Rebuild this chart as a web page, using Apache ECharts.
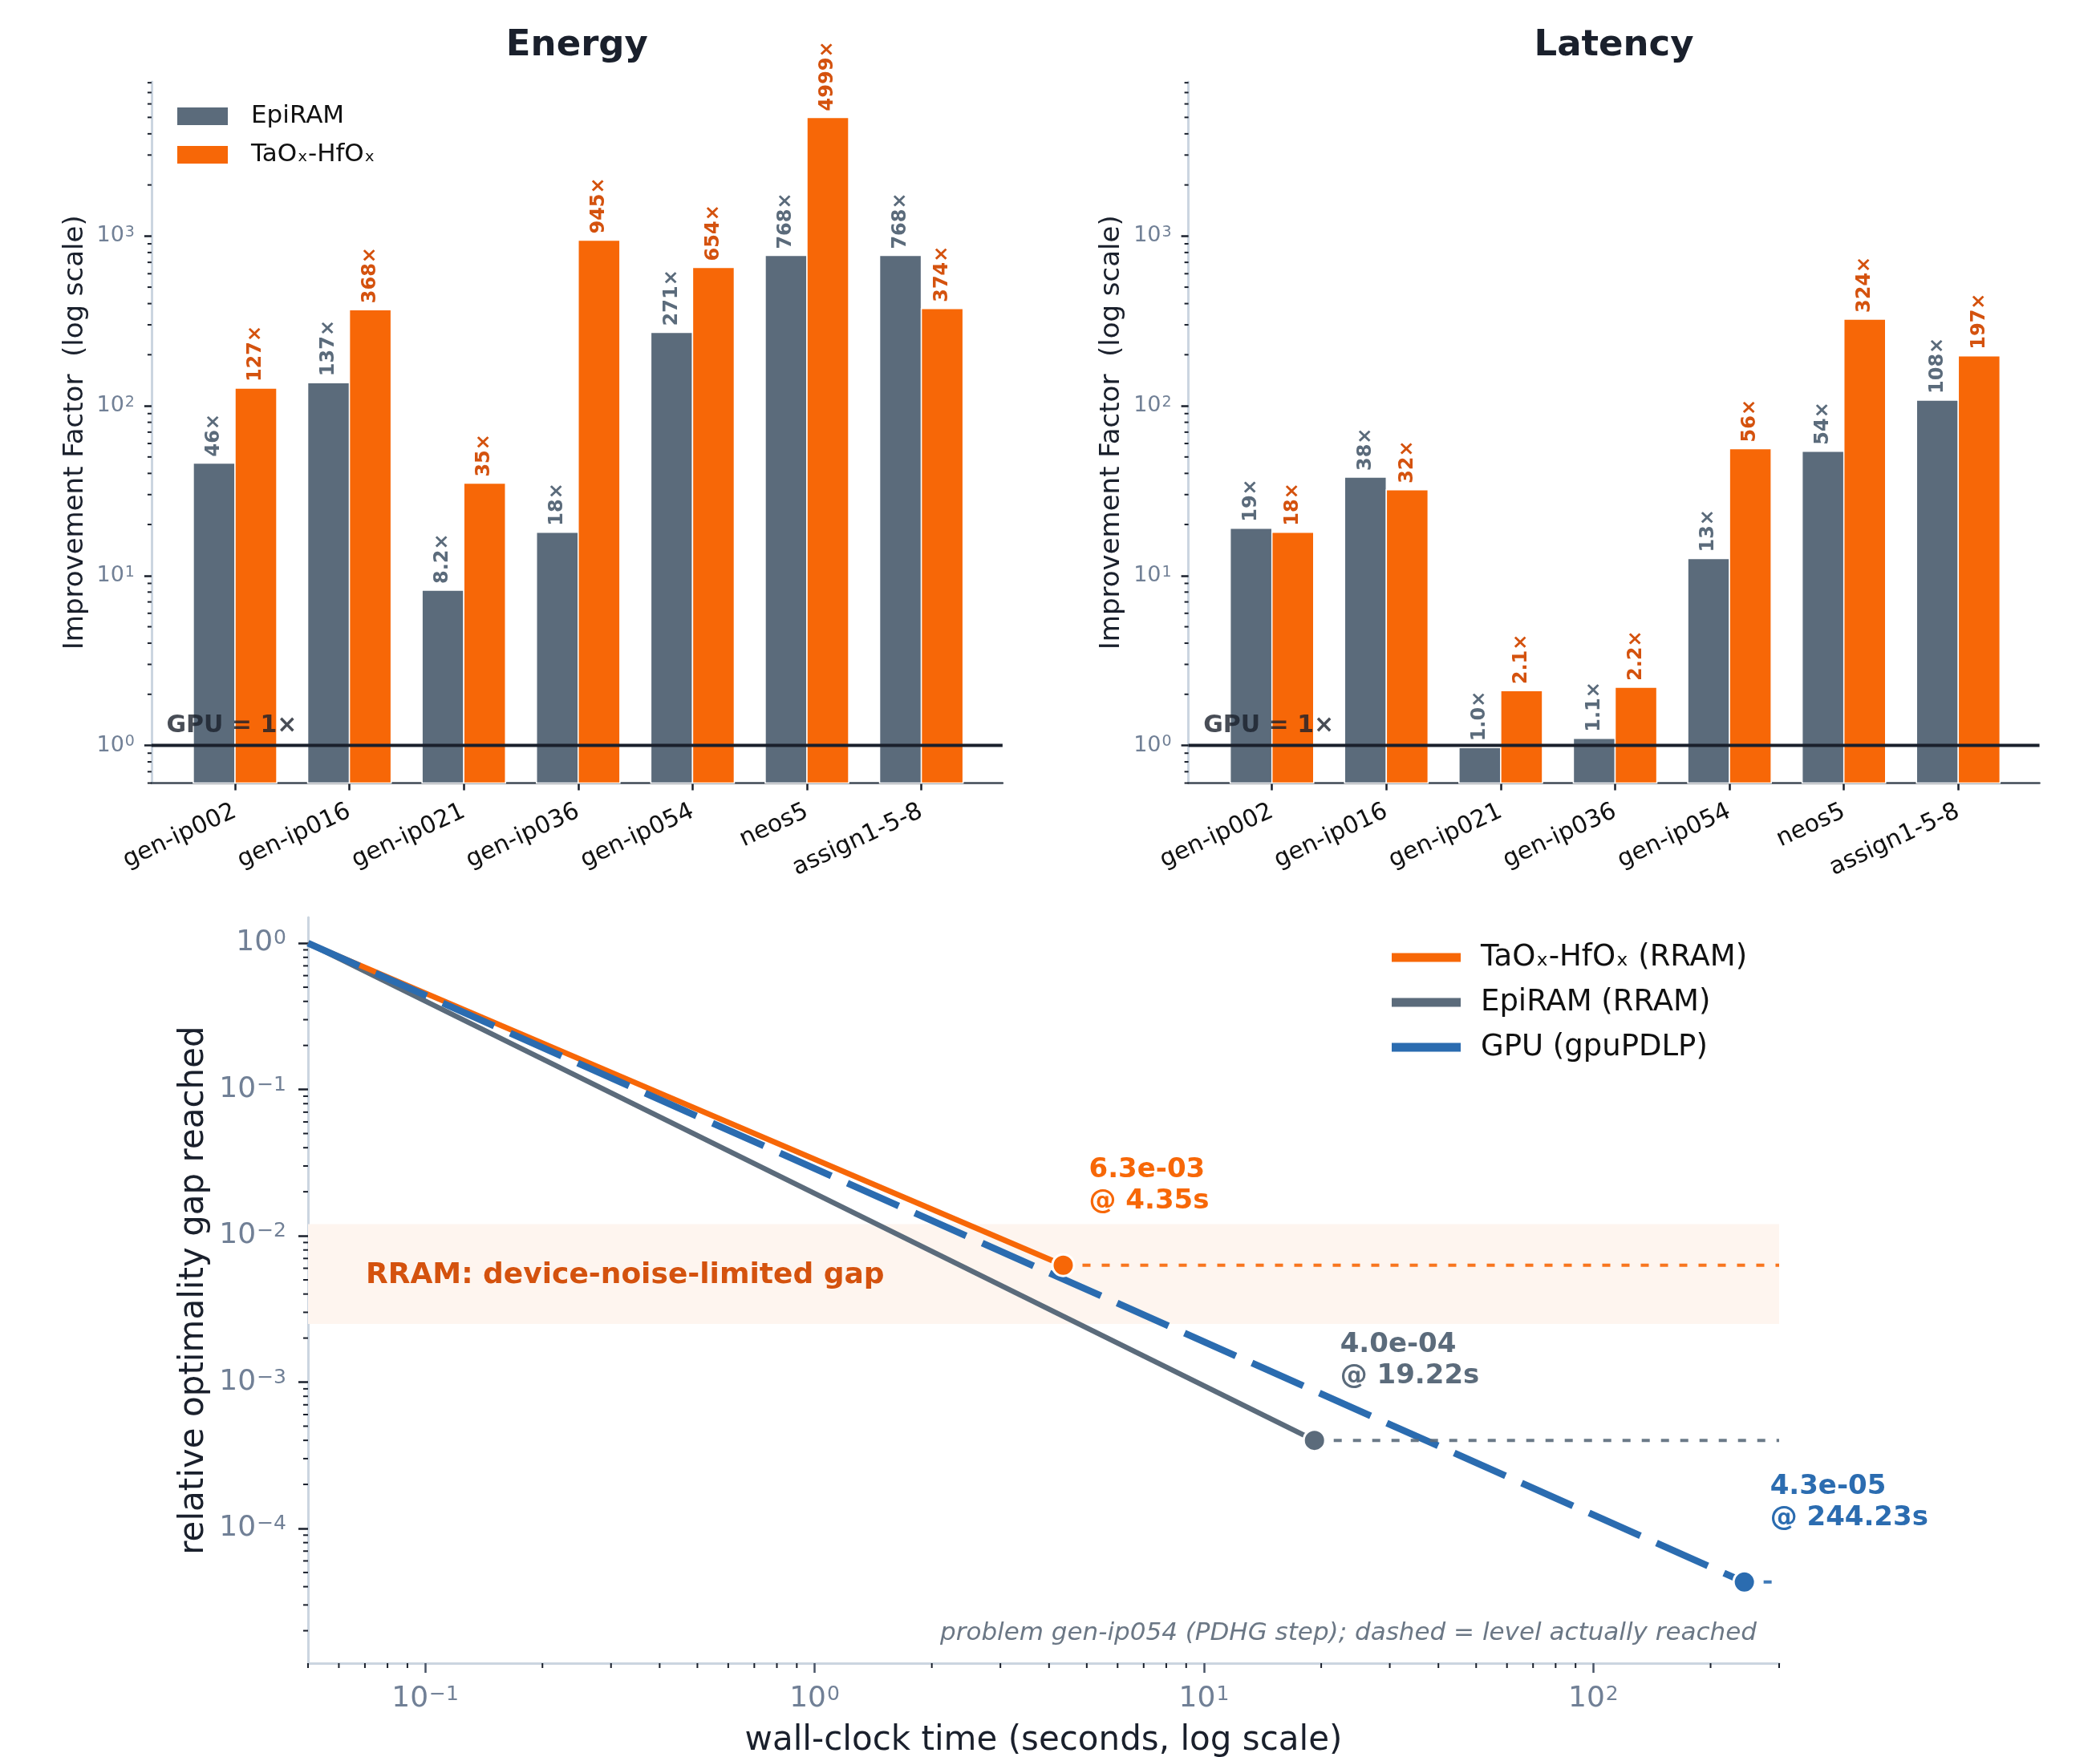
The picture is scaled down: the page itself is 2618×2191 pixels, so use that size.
<!DOCTYPE html>
<html>
<head>
<meta charset="utf-8">
<script src="https://cdn.jsdelivr.net/npm/echarts@6/dist/echarts.min.js"></script>
<style>
  html, body { margin: 0; padding: 0; background: #fff; }
  #chart { width: 2618px; height: 2191px; }
</style>
</head>
<body>
<div id="chart"></div>
<script>
// top panels: improvement factor vs GPU
const problems = ['gen-ip002', 'gen-ip016', 'gen-ip021', 'gen-ip036', 'gen-ip054', 'neos5', 'assign1-5-8']
const energyEpi = [46, 137, 8.2, 18, 271, 768, 768]
const energyTaO = [127, 368, 35, 945, 654, 4999, 374]
const latencyEpi = [19, 38, 0.97, 1.1, 12.6, 54, 108]
const latencyTaO = [18, 32, 2.1, 2.2, 56, 324, 197]

// bottom panel: convergence on gen-ip054
const curveNames = ['TaOₓ-HfOₓ (RRAM)', 'EpiRAM (RRAM)', 'GPU (gpuPDLP)']
const startTime = 0.05
const startGap = 1.0
const endTime = [4.35, 19.22, 244.23]
const endGap = [6.3e-3, 4.0e-4, 4.3e-5]
const noiseBand = [0.0025, 0.012]

const FONT = 'DejaVu Sans'
const GRAY = '#5b6b7b'
const ORANGE = '#f76707'
const ORANGE_DARK = '#d4520e'
const BLUE = '#2b6cb0'
const DARK = '#1a202c'
const SLATE = '#718096'
const SPINE = '#cbd5e0'
const curveColors = [ORANGE, GRAY, BLUE]
const curveWidths = [7, 6.5, 8.5]

const BAND = 142.6
const XMIN = -0.73
const XMAX = 6.71
const YMIN = 0.6
const YMAX = 8100
const TOP = 102
const HEIGHT = 874.5
const LXMIN = 0.05, LXMAX = 300, LYMIN = 1.2e-5, LYMAX = 1.5

const panels = [
  { title: 'Energy', tick0: 293, epi: energyEpi, tao: energyTaO },
  { title: 'Latency', tick0: 1585.7, epi: latencyEpi, tao: latencyTaO }
]

const powLabel = (v) => {
  const l = Math.log10(v)
  const e = Math.round(l)
  if (Math.abs(l - e) > 1e-6) return ''
  return '{b|10}{s|' + (e < 0 ? '−' + (-e) : e) + '}'
}

const minorTicks = (lo, hi) => {
  const out = []
  for (let e = Math.floor(Math.log10(lo)); e <= Math.ceil(Math.log10(hi)); e++) {
    for (let m = 2; m <= 9; m++) {
      const v = m * Math.pow(10, e)
      if (v >= lo * 0.999 && v <= hi * 1.001) out.push(v)
    }
  }
  return out
}

const fmtFactor = (v) => (v < 9.95 ? v.toFixed(1) : String(Math.round(v))) + '×'
const fmtGap = (g) => g.toExponential(1).replace(/e([+-])(\d)$/, 'e$10$2')

const grids = []
const xAxes = []
const yAxes = []
const series = []
const graphics = []

const richLabel = (size, supSize) => ({
  b: { fontSize: size, color: SLATE, fontFamily: FONT },
  s: { fontSize: supSize, color: SLATE, fontFamily: FONT, verticalAlign: 'top', padding: [0, 0, 0, 1] }
})

const barSeries = (name, values, side, color, labelColor, axisIdx) => ({
  type: 'custom',
  name,
  xAxisIndex: axisIdx,
  yAxisIndex: axisIdx,
  itemStyle: { color },
  clip: false,
  silent: true,
  data: values.map((v, i) => [i, v]),
  renderItem: (params, api) => {
    const i = api.value(0)
    const v = api.value(1)
    const top = api.coord([i, v])
    const base = api.coord([i, YMIN])
    const w = api.size([1, 1], [i, 1])[0] * 0.365
    const x0 = side < 0 ? top[0] - w : top[0]
    return {
      type: 'group',
      children: [
        {
          type: 'rect',
          shape: { x: x0, y: top[1], width: w, height: base[1] - top[1] },
          style: { fill: color, stroke: '#fff', lineWidth: 1.5 }
        },
        {
          type: 'text',
          x: x0 + w / 2,
          y: top[1] - 8,
          rotation: Math.PI / 2,
          style: {
            text: fmtFactor(v),
            fill: labelColor,
            font: 'bold 24px "DejaVu Sans"',
            align: 'left',
            verticalAlign: 'middle'
          }
        }
      ]
    }
  }
})

panels.forEach((p, k) => {
  const frame = 2 * k
  const bars = 2 * k + 1
  const frameLeft = p.tick0 + XMIN * BAND
  grids.push({ left: frameLeft, top: TOP, width: (XMAX - XMIN) * BAND, height: HEIGHT, containLabel: false, outerBoundsMode: 'none' })
  grids.push({ left: p.tick0 - BAND / 2, top: TOP, width: BAND * 7, height: HEIGHT, containLabel: false, outerBoundsMode: 'none' })

  xAxes.push({
    type: 'value', gridIndex: frame, min: XMIN, max: XMAX,
    axisLine: { show: true, onZero: false, lineStyle: { color: '#3f4a56', width: 2.5 } },
    axisTick: { show: false }, axisLabel: { show: false }, splitLine: { show: false }
  })
  xAxes.push({
    type: 'category', gridIndex: bars, data: problems,
    axisLine: { show: false, onZero: false },
    axisTick: { show: true, alignWithLabel: true, length: 9, lineStyle: { color: DARK, width: 2.5 } },
    axisLabel: { rotate: 25, fontSize: 30, fontFamily: FONT, color: '#111', margin: 34, interval: 0 },
    splitLine: { show: false }
  })

  yAxes.push({
    type: 'log', gridIndex: frame, min: YMIN, max: YMAX,
    name: 'Improvement Factor  (log scale)', nameLocation: 'middle', nameGap: 78, nameMoveOverlap: false,
    nameTextStyle: { fontSize: 34, fontFamily: FONT, color: DARK },
    axisLine: { show: true, onZero: false, lineStyle: { color: SPINE, width: 3 } },
    axisTick: { show: true, length: 9, lineStyle: { color: DARK, width: 2.5 } },
    axisLabel: { formatter: powLabel, rich: richLabel(27, 19), margin: 21, showMinLabel: false, showMaxLabel: false },
    splitLine: { show: false }
  })
  yAxes.push({
    type: 'log', gridIndex: bars, min: YMIN, max: YMAX, show: false,
    axisLine: { onZero: false }, splitLine: { show: false }
  })

  series.push(barSeries('EpiRAM', p.epi, -1, GRAY, GRAY, bars))
  series.push(barSeries('TaOₓ-HfOₓ', p.tao, 1, ORANGE, ORANGE_DARK, bars))

  // minor ticks on the log y axis
  series.push({
    type: 'custom', xAxisIndex: frame, yAxisIndex: frame, silent: true, clip: false,
    data: minorTicks(YMIN, YMAX).map(v => [XMIN, v]),
    renderItem: (params, api) => {
      const c = api.coord([api.value(0), api.value(1)])
      return { type: 'line', shape: { x1: c[0] - 5, y1: c[1], x2: c[0], y2: c[1] }, style: { stroke: DARK, lineWidth: 2 } }
    }
  })

  // GPU reference line
  series.push({
    type: 'line', xAxisIndex: frame, yAxisIndex: frame, silent: true, z: 5,
    data: [[XMIN, 1], [XMAX, 1]], symbol: 'none',
    lineStyle: { color: DARK, width: 4 }
  })
  series.push({
    type: 'scatter', xAxisIndex: frame, yAxisIndex: frame, silent: true, z: 5,
    data: [[-0.6, 1.3]], symbolSize: 0,
    label: {
      show: true, formatter: 'GPU = 1×', position: 'right', distance: 0,
      fontSize: 30, fontWeight: 'bold', fontFamily: FONT, color: DARK
    }
  })

  graphics.push({
    type: 'text', x: p.tick0 + (XMIN + XMAX) / 2 * BAND, y: 57,
    style: { text: p.title, font: 'bold 45px "DejaVu Sans"', fill: DARK, align: 'center', verticalAlign: 'middle' }
  })
})

// bottom panel
grids.push({ left: 384, top: 1144, width: 1834, height: 930, containLabel: false, outerBoundsMode: 'none' })
xAxes.push({
  type: 'log', gridIndex: 4, min: LXMIN, max: LXMAX,
  name: 'wall-clock time (seconds, log scale)', nameLocation: 'middle', nameGap: 76, nameMoveOverlap: false,
  nameTextStyle: { fontSize: 42, fontFamily: FONT, color: DARK },
  axisLine: { show: true, onZero: false, lineStyle: { color: SPINE, width: 3 } },
  axisTick: { show: true, length: 12, lineStyle: { color: '#4a5568', width: 2.5 } },
  axisLabel: { formatter: powLabel, rich: richLabel(36, 25), margin: 27, showMinLabel: false, showMaxLabel: false },
  splitLine: { show: false }
})
yAxes.push({
  type: 'log', gridIndex: 4, min: LYMIN, max: LYMAX,
  name: 'relative optimality gap reached', nameLocation: 'middle', nameGap: 121, nameMoveOverlap: false,
  nameTextStyle: { fontSize: 42, fontFamily: FONT, color: DARK },
  axisLine: { show: true, onZero: false, lineStyle: { color: SPINE, width: 3 } },
  axisTick: { show: true, length: 12, lineStyle: { color: DARK, width: 2.5 } },
  axisLabel: { formatter: powLabel, rich: richLabel(36, 25), margin: 27, showMinLabel: false, showMaxLabel: false },
  splitLine: { show: false }
})

series.push({
  type: 'line', xAxisIndex: 4, yAxisIndex: 4, data: [], silent: true, z: 1,
  markArea: {
    silent: true,
    itemStyle: { color: '#fef5ef' },
    label: {
      show: true, position: 'insideLeft', distance: 0, offset: [72, 2],
      formatter: 'RRAM: device-noise-limited gap',
      fontSize: 36, fontWeight: 'bold', fontFamily: FONT, color: ORANGE_DARK
    },
    data: [[{ yAxis: noiseBand[0] }, { yAxis: noiseBand[1] }]]
  }
})

const lineZ = [4, 3, 5]
curveNames.forEach((name, k) => {
  series.push({
    type: 'line', name, xAxisIndex: 4, yAxisIndex: 4, z: lineZ[k], silent: true,
    data: [[startTime, startGap], [endTime[k], endGap[k]]],
    symbol: 'none', itemStyle: { color: curveColors[k] },
    lineStyle: { color: curveColors[k], width: curveWidths[k], type: k === 2 ? [70, 22] : 'solid', cap: 'butt' }
  })
  series.push({
    type: 'line', xAxisIndex: 4, yAxisIndex: 4, z: 6, silent: true,
    data: [[endTime[k], endGap[k]], [LXMAX, endGap[k]]],
    symbol: 'none',
    lineStyle: { color: curveColors[k], width: 4, type: [10, 14], opacity: 0.9 }
  })
})

series.push({
  type: 'scatter', xAxisIndex: 4, yAxisIndex: 4, z: 8, silent: true,
  symbolSize: 27,
  itemStyle: { borderColor: '#fff', borderWidth: 3, opacity: 1 },
  data: endTime.map((t, k) => ({
    value: [t, endGap[k]],
    itemStyle: { color: curveColors[k] },
    label: { color: curveColors[k] }
  })),
  label: {
    show: true, position: 'right', distance: 17, offset: [0, -99],
    fontSize: 34, fontWeight: 'bold', fontFamily: FONT, lineHeight: 39, align: 'left',
    formatter: (params) => fmtGap(params.value[1]) + '\n@ ' + params.value[0].toFixed(2) + 's'
  }
})

// minor ticks for the bottom panel
series.push({
  type: 'custom', xAxisIndex: 4, yAxisIndex: 4, silent: true, clip: false,
  data: minorTicks(LYMIN, LYMAX).map(v => [LXMIN, v]),
  renderItem: (params, api) => {
    const c = api.coord([api.value(0), api.value(1)])
    return { type: 'line', shape: { x1: c[0] - 6, y1: c[1], x2: c[0], y2: c[1] }, style: { stroke: DARK, lineWidth: 2 } }
  }
})
series.push({
  type: 'custom', xAxisIndex: 4, yAxisIndex: 4, silent: true, clip: false,
  data: minorTicks(LXMIN, LXMAX).map(v => [v, LYMIN]),
  renderItem: (params, api) => {
    const c = api.coord([api.value(0), api.value(1)])
    return { type: 'line', shape: { x1: c[0], y1: c[1], x2: c[0], y2: c[1] + 6 }, style: { stroke: DARK, lineWidth: 2 } }
  }
})

graphics.push({
  type: 'text', x: 2190, y: 2037,
  style: {
    text: 'problem gen-ip054 (PDHG step); dashed = level actually reached',
    font: 'italic 31px "DejaVu Sans"', fill: '#6b7785', align: 'right', verticalAlign: 'middle'
  }
})

const chart = echarts.init(document.getElementById('chart'))
chart.setOption({
  backgroundColor: '#fff',
  animation: false,
  textStyle: { fontFamily: FONT },
  grid: grids,
  xAxis: xAxes,
  yAxis: yAxes,
  legend: [
    {
      orient: 'vertical', left: 221, top: 128, padding: 0,
      itemWidth: 63, itemHeight: 22, itemGap: 14, icon: 'rect',
      selectedMode: false,
      textStyle: { fontSize: 31, lineHeight: 34, fontFamily: FONT, color: '#111', padding: [0, 0, 0, 24] },
      data: [
        { name: 'EpiRAM', itemStyle: { color: GRAY } },
        { name: 'TaOₓ-HfOₓ', itemStyle: { color: ORANGE } }
      ]
    },
    {
      orient: 'vertical', left: 1735, top: 1174, padding: 0,
      itemWidth: 86, itemHeight: 11, itemGap: 16, icon: 'rect',
      selectedMode: false,
      textStyle: { fontSize: 37, lineHeight: 40, fontFamily: FONT, color: '#111', padding: [0, 0, 0, 20] },
      data: curveNames.map((n, k) => ({ name: n, itemStyle: { color: curveColors[k] } }))
    }
  ],
  graphic: graphics,
  series
})
</script>
</body>
</html>
